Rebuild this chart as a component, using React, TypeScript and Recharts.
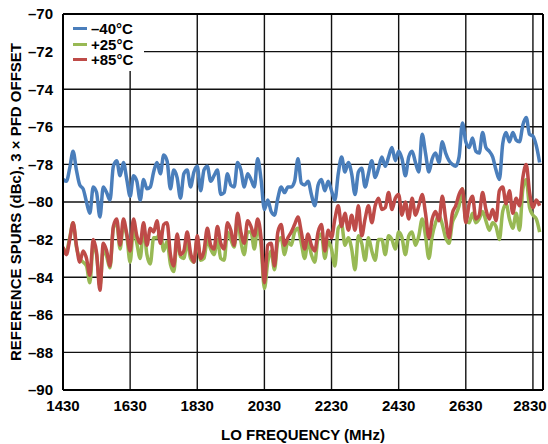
import { LineChart, Line, XAxis, YAxis, CartesianGrid, Legend, ReferenceLine } from "recharts";

// LO sweep, 10 MHz steps from 1430 MHz to 2850 MHz
const START_MHZ = 1430;
const STEP_MHZ = 10;

// reference spur level (dBc), one row = 100 MHz
const minus40C = [
  -78.8, -78.9, -78.2, -77.3, -78.3, -79.1, -79.3, -80.0, -80.6, -79.2,
  -79.5, -80.8, -79.2, -79.5, -79.9, -78.1, -77.8, -78.6, -77.9, -78.8,
  -79.7, -78.6, -78.9, -79.9, -78.8, -79.3, -79.2, -78.4, -77.9, -78.5,
  -77.5, -77.8, -79.3, -78.3, -78.7, -79.8, -78.5, -78.3, -79.2, -78.4,
  -78.1, -79.4, -78.3, -78.1, -78.9, -78.6, -78.3, -79.6, -79.5, -78.5,
  -79.1, -79.2, -77.9, -78.3, -79.2, -78.5, -78.8, -79.2, -77.7, -78.8,
  -80.4, -79.9, -80.5, -80.7, -79.8, -79.2, -79.5, -79.2, -79.2, -78.9,
  -77.7, -79.0, -79.1, -78.9, -79.6, -80.2, -79.1, -78.8, -79.4, -78.9,
  -79.4, -79.9, -78.5, -77.6, -78.4, -77.9, -78.5, -79.6, -78.4, -78.2,
  -79.2, -78.5, -77.8, -78.7, -78.2, -77.6, -78.1, -77.6, -77.1, -77.8,
  -77.3, -77.7, -78.6, -77.6, -77.3, -77.9, -78.4, -76.4, -77.4, -78.4,
  -77.7, -77.4, -77.9, -76.8, -77.4, -77.8, -78.0, -78.1, -77.6, -75.8,
  -76.8, -77.1, -76.6, -77.3, -77.4, -76.3, -77.1, -77.3, -77.6, -78.3,
  -78.8, -76.9, -76.3, -76.8, -76.3, -76.7, -76.8, -75.9, -75.5, -76.4,
  -76.5, -77.0, -77.9,
];

const plus25C = [
  -82.5, -82.6, -81.9, -81.1, -82.4, -83.0, -83.2, -83.4, -84.3, -82.3,
  -82.8, -84.5, -82.5, -82.9, -83.5, -81.4, -81.1, -82.5, -81.2, -81.8,
  -83.2, -81.4, -82.2, -83.0, -81.4, -82.8, -83.3, -81.9, -81.9, -81.6,
  -82.6, -82.1, -83.3, -83.7, -82.0, -82.9, -83.0, -82.1, -83.0, -83.2,
  -82.0, -83.1, -83.0, -82.0, -82.5, -82.8, -82.0, -83.0, -83.1, -81.6,
  -82.0, -82.4, -80.9, -82.1, -82.8, -81.6, -81.6, -82.5, -81.3, -82.3,
  -84.6, -83.2, -82.6, -83.6, -82.1, -81.9, -82.8, -82.1, -82.3, -81.6,
  -81.4, -82.2, -83.0, -82.1, -82.8, -83.2, -81.9, -81.7, -83.0, -82.1,
  -82.5, -83.4, -81.4, -81.2, -82.3, -81.9, -82.5, -83.6, -81.8, -82.2,
  -83.1, -81.9, -82.6, -83.1, -82.0, -82.0, -82.8, -81.8, -82.0, -82.5,
  -81.6, -81.9, -82.8, -81.8, -81.6, -82.3, -81.8, -80.9, -81.8, -83.0,
  -81.8, -81.1, -80.7, -81.2, -81.9, -82.2, -81.1, -80.7, -80.2, -79.3,
  -81.0, -81.1, -80.6, -81.1, -80.9, -80.5, -81.0, -81.5, -81.1, -81.3,
  -82.0, -80.5, -80.1, -80.9, -81.4, -80.6, -81.5, -79.3, -78.8, -80.3,
  -80.7, -80.9, -81.6,
];

const plus85C = [
  -82.4, -82.8, -82.0, -81.1, -82.3, -83.2, -82.6, -83.0, -83.9, -82.0,
  -82.7, -84.7, -82.2, -82.6, -83.4, -81.3, -80.9, -82.3, -80.9, -81.7,
  -82.6, -80.9, -81.8, -82.2, -81.1, -82.3, -81.4, -81.6, -81.0, -82.2,
  -81.2, -81.1, -82.8, -83.4, -81.7, -82.8, -82.6, -81.6, -82.7, -83.2,
  -81.8, -83.0, -82.6, -81.4, -82.3, -82.5, -81.3, -82.2, -82.5, -81.1,
  -81.5, -82.3, -80.6, -81.6, -82.2, -81.0, -81.3, -81.8, -80.9, -81.9,
  -84.3, -82.3, -82.2, -83.4, -81.6, -81.2, -82.3, -81.9, -81.6, -81.2,
  -80.8, -81.6, -82.5, -81.7, -82.3, -82.6, -81.6, -81.2, -82.6, -81.5,
  -81.9, -80.9, -80.2, -81.3, -80.6, -81.5, -80.7, -81.5, -80.2, -81.8,
  -80.9, -80.2, -81.1, -80.2, -79.8, -80.4, -80.3, -79.5, -80.4, -79.8,
  -79.6, -80.7, -80.0, -80.9, -79.8, -80.7, -80.2, -79.6, -80.6, -81.9,
  -80.9, -80.5, -81.0, -79.7, -80.9, -81.9, -80.6, -80.2, -79.6, -79.3,
  -81.1, -80.1, -79.7, -80.9, -80.7, -79.5, -80.4, -80.9, -80.4, -81.0,
  -79.4, -79.2, -80.1, -79.4, -80.6, -79.8, -80.2, -78.7, -78.0, -79.5,
  -80.3, -79.9, -80.2,
];

const xTicks = [1430, 1630, 1830, 2030, 2230, 2430, 2630, 2830];
const yTicks = [-90, -88, -86, -84, -82, -80, -78, -76, -74, -72, -70];

const series = [
  { key: "m40", name: "–40°C", color: "#4a7ebb" },
  { key: "p25", name: "+25°C", color: "#98b954" },
  { key: "p85", name: "+85°C", color: "#be4b48" },
];

const rows = minus40C.map((v, i) => ({
  freq: START_MHZ + i * STEP_MHZ,
  m40: v,
  p25: plus25C[i],
  p85: plus85C[i],
}));

const FONT = '"Liberation Sans", Arial, Helvetica, sans-serif';
const tickStyle = { fill: "#000", fontSize: 15, fontWeight: 700, fontFamily: FONT };

const fmtY = (v: number) => (v < 0 ? "–" + Math.abs(v) : String(v));

// x tick: the last label sits against the right edge, nudge it in a bit
function FreqTick(props: any) {
  const { x, y, payload } = props;
  const last = payload.value === xTicks[xTicks.length - 1];
  return (
    <text x={x + (last ? -3 : 0)} y={y} dy="0.71em" textAnchor="middle" {...tickStyle}>
      {payload.value}
    </text>
  );
}

function TempLegend() {
  return (
    <div
      style={{
        background: "#fff",
        width: 80,
        height: 56,
        paddingTop: 6,
        paddingLeft: 9,
        boxSizing: "border-box",
        fontFamily: FONT,
        fontWeight: 700,
        fontSize: 15,
        lineHeight: "15.5px",
        color: "#000",
      }}
    >
      {series.map((s) => (
        <div key={s.key} style={{ display: "flex", alignItems: "center" }}>
          <span style={{ display: "inline-block", width: 14, height: 3, background: s.color, marginRight: 4 }} />
          <span>{s.name}</span>
        </div>
      ))}
    </div>
  );
}

export default function App() {
  return (
    <div style={{ position: "absolute", left: 0, top: 0, width: 548, height: 444, background: "#fff" }}>
      <LineChart width={548} height={444} data={rows} margin={{ top: 14, right: 5, bottom: 0, left: 0 }}>
        <CartesianGrid stroke="#111" strokeWidth={1.4} />
        <XAxis
          dataKey="freq"
          type="number"
          domain={[1430, 2860]}
          ticks={xTicks}
          interval={0}
          allowDataOverflow
          height={54}
          tickSize={0}
          tickMargin={10}
          tick={<FreqTick />}
          axisLine={{ stroke: "#000", strokeWidth: 2 }}
          label={{
            value: "LO FREQUENCY (MHz)",
            position: "insideBottom",
            offset: 4,
            style: { fill: "#000", fontSize: 15, fontWeight: 700, fontFamily: FONT },
          }}
        />
        <YAxis
          type="number"
          domain={[-90, -70]}
          ticks={yTicks}
          interval={0}
          allowDataOverflow
          width={63}
          tickSize={0}
          tickMargin={10}
          tick={tickStyle}
          tickFormatter={fmtY}
          axisLine={{ stroke: "#000", strokeWidth: 2 }}
          label={{
            value: "REFERENCE SPURS (dBc), 3 × PFD OFFSET",
            angle: -90,
            position: "center",
            dx: -16,
            style: { fill: "#000", fontSize: 15, fontWeight: 700, fontFamily: FONT, textAnchor: "middle" },
          }}
        />
        <ReferenceLine y={-70} stroke="#000" strokeWidth={2} />
        <ReferenceLine x={2860} stroke="#000" strokeWidth={2} />
        {series.map((s) => (
          <Line
            key={s.key}
            type="monotone"
            dataKey={s.key}
            name={s.name}
            stroke={s.color}
            strokeWidth={3.5}
            dot={false}
            isAnimationActive={false}
          />
        ))}
        <Legend
          layout="vertical"
          align="center"
          verticalAlign="middle"
          content={() => <TempLegend />}
          wrapperStyle={{ left: 64, top: 15, width: 80, height: 56 }}
        />
      </LineChart>
    </div>
  );
}
